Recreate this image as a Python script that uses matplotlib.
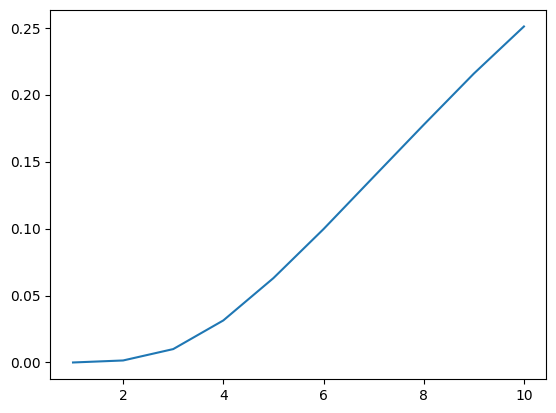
import numpy as np
import matplotlib
matplotlib.use("Agg")
import matplotlib.pyplot as plt

# data
x = [1, 2, 3, 4, 5, 6, 7, 8, 9, 10]
y = [0.0, 0.0015, 0.010, 0.0314, 0.063, 0.0996, 0.1386, 0.1775, 0.2157, 0.2509]

fig = plt.figure(figsize=(6.4, 4.8), dpi=100)
ax = fig.add_subplot(111)
ax.plot(x, y)

fig.savefig("out.png", dpi=100, bbox_inches="tight")
